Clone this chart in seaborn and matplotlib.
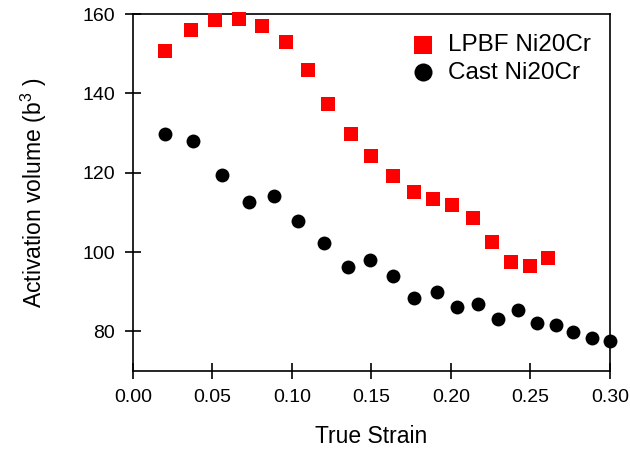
import numpy as np
import pandas as pd
import matplotlib
matplotlib.use("Agg")
import matplotlib.pyplot as plt
import seaborn as sns

# LPBF Ni20Cr (red squares)
lpbf_strain = [0.020, 0.0365, 0.0516, 0.067, 0.081, 0.096, 0.110, 0.123, 0.137, 0.150,
               0.1635, 0.177, 0.189, 0.201, 0.214, 0.226, 0.238, 0.250, 0.261]
lpbf_volume = [150.7, 156.0, 158.5, 158.7, 157.0, 153.0, 146.0, 137.3, 129.8, 124.2,
               119.2, 115.2, 113.4, 111.9, 108.6, 102.6, 97.5, 96.5, 98.5]

# Cast Ni20Cr (black circles)
cast_strain = [0.020, 0.038, 0.056, 0.073, 0.089, 0.104, 0.120, 0.135, 0.149, 0.1635,
               0.177, 0.191, 0.204, 0.217, 0.2296, 0.242, 0.254, 0.266, 0.277, 0.289, 0.2998]
cast_volume = [129.8, 128.0, 119.5, 112.6, 114.2, 107.9, 102.3, 96.3, 97.9, 93.9,
               88.5, 90.0, 86.1, 87.0, 83.0, 85.4, 82.2, 81.5, 79.9, 78.4, 77.5]

x_ticks = [0.00, 0.05, 0.10, 0.15, 0.20, 0.25, 0.30]
y_ticks = [80, 100, 120, 140, 160]

lpbf = pd.DataFrame({"strain": lpbf_strain, "volume": lpbf_volume})
cast = pd.DataFrame({"strain": cast_strain, "volume": cast_volume})

sns.set_theme(style="ticks")
plt.rcParams["font.family"] = ["Liberation Sans", "DejaVu Sans"]
plt.rcParams["mathtext.fontset"] = "custom"
plt.rcParams["mathtext.rm"] = "Liberation Sans"
plt.rcParams["mathtext.it"] = "Liberation Sans"
plt.rcParams["text.color"] = "black"
plt.rcParams["axes.labelcolor"] = "black"

fig = plt.figure(figsize=(6.3, 4.58), dpi=100)
ax = fig.add_axes([0.211, 0.190, 0.757, 0.779])

sns.scatterplot(data=lpbf, x="strain", y="volume", ax=ax, marker="s", color="#ff0000",
                s=90, linewidth=0, label="LPBF Ni20Cr", clip_on=False, zorder=3)
sns.scatterplot(data=cast, x="strain", y="volume", ax=ax, marker="o", color="black",
                s=100, linewidth=0, label="Cast Ni20Cr", clip_on=False, zorder=3)

ax.set_xlim(0, 0.30)
ax.set_ylim(70, 160)
ax.set_xticks(x_ticks)
ax.set_xticklabels([f"{t:.2f}" for t in x_ticks])
ax.set_yticks(y_ticks)

for s in ax.spines.values():
    s.set_linewidth(1.2)
    s.set_color("black")

ax.tick_params(axis="both", direction="inout", length=12, width=1.2, pad=7,
               labelsize=14, colors="black", top=False, right=False)

ax.set_xlabel("True Strain", fontsize=16.5, labelpad=14)
ax.set_ylabel(r"Activation volume (b$^{3}$ )", fontsize=16.5, labelpad=24)

ax.legend(loc="upper right", bbox_to_anchor=(0.9595, 0.944), frameon=False,
          borderaxespad=0, borderpad=0, fontsize=17.5, markerscale=1.3,
          handletextpad=0.4, labelspacing=0.22, handlelength=1.2)

fig.savefig("out.png", dpi=100)
